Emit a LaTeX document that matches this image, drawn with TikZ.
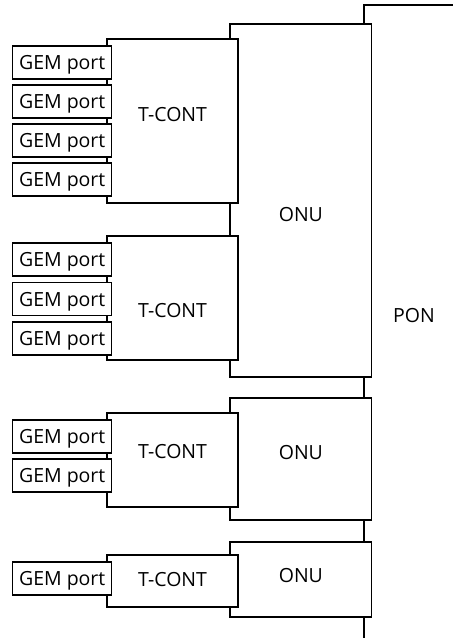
\documentclass[tikz,border=0pt]{standalone}
\usepackage{fontspec}
\setmainfont{Open Sans}
\usepackage{tikz}
\usetikzlibrary{positioning}
\tikzset{
  pfont/.style={font=\fontsize{19.5}{22}\selectfont, text height=14pt, text depth=0pt},
  pbox/.style={draw=black, fill=white, line width=1.3pt, inner sep=0pt,
               outer sep=0pt, pfont},
  pgem/.style={pbox, minimum width=99pt, minimum height=33pt},
  ptcont/.style={pbox, minimum width=131pt},
  ponu/.style={pbox, minimum width=141.7pt},
  ppon/.style={pbox, minimum width=112pt, minimum height=650pt},
  every label/.style={pfont},
}

\begin{document}
\begin{tikzpicture}[x=1pt,y=-1pt]

  \useasboundingbox (0,0) rectangle (453,638);
  \clip (0,0) rectangle (453,638);

  % pon
  \node[ppon, label={[xshift=-6pt,yshift=14.3pt]center:PON}] (pon) at (420,330) {};

  % onus
  \node[ponu, minimum height=353pt, label={[yshift=-13.5pt]center:ONU}] (onu1) at (300.85,200.5) {};
  \node[ponu, minimum height=122pt, label={[yshift=6.5pt]center:ONU}] (onu2) at (300.85,459) {};
  \node[ponu, minimum height=75pt, label={[yshift=4pt]center:ONU}] (onu3) at (300.85,579.5) {};

  % t-conts
  \node[ptcont, minimum height=164pt, label={[yshift=6.5pt]center:T-CONT}] (tc1) at (172.5,121) {};
  \node[ptcont, minimum height=124pt, label={[yshift=-12.5pt]center:T-CONT}] (tc2) at (172.5,298) {};
  \node[ptcont, minimum height=94pt, label={[yshift=8.5pt]center:T-CONT}] (tc3) at (172.5,460) {};
  \node[ptcont, minimum height=52pt, label={[yshift=1.3pt]center:T-CONT}] (tc4) at (172.5,581) {};

  % gem ports
  \node[pgem] (g1a) at (62.2,62.5) {GEM port};
  \foreach \p/\q in {g1a/g1b, g1b/g1c, g1c/g1d}
    \node[pgem, below=6pt of \p] (\q) {GEM port};

  \node[pgem] (g2a) at (62.2,259.5) {GEM port};
  \foreach \p/\q in {g2a/g2b, g2b/g2c}
    \node[pgem, below=6.5pt of \p] (\q) {GEM port};

  \node[pgem] (g3a) at (62.2,436.5) {GEM port};
  \node[pgem, below=6pt of g3a] (g3b) {GEM port};

  \node[pgem] (g4a) at (62.2,578.5) {GEM port};

\end{tikzpicture}
\end{document}
